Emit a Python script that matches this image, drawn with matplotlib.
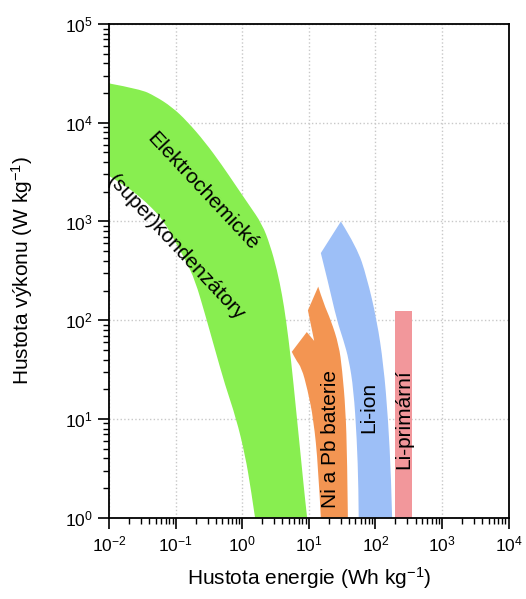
import matplotlib
matplotlib.use("Agg")
import numpy as np
import matplotlib.pyplot as plt
from matplotlib.path import Path
from matplotlib.patches import PathPatch
from matplotlib.ticker import LogLocator, NullFormatter

plt.rcParams['font.family'] = ['Liberation Sans', 'DejaVu Sans']
plt.rcParams['mathtext.fontset'] = 'custom'
plt.rcParams['mathtext.rm'] = 'Liberation Sans'
plt.rcParams['mathtext.it'] = 'Liberation Sans:italic'
plt.rcParams['mathtext.bf'] = 'Liberation Sans:bold'

# supercapacitor band: outer (upper) edge and inner (lower) edge
cap_outer_x = [0.01, 0.029, 0.0486, 0.0877, 0.147, 0.275, 0.494, 0.804, 1.26, 1.98, 2.61, 3.32,
               3.96, 4.54, 5.40, 6.42, 7.64, 8.77, 9.4]
cap_outer_y = [25000, 21900, 18660, 14420, 10400, 6370, 3720, 2290, 1470, 942, 577, 322,
               180, 100, 39.4, 12.3, 3.83, 1.51, 1.0]
cap_inner_x = [1.55, 1.35, 1.10, 0.804, 0.55, 0.375, 0.275, 0.194, 0.142, 0.0972, 0.0642,
               0.0439, 0.029, 0.0173, 0.01]
cap_inner_y = [1.0, 1.90, 4.30, 10.2, 22.0, 54.6, 115, 255, 397, 633, 1030,
               1370, 1770, 2310, 2880]

# Ni / Pb batteries: right edge (top -> bottom), left edge (bottom -> left tip), notch
nipb_right_x = [13.8, 16.6, 21.4, 28.2, 31.6, 35.5, 37.6, 38.5]
nipb_right_y = [219, 148, 100, 56, 31.6, 12.6, 4.0, 1.0]
nipb_left_x = [15.1, 13.8, 11.7, 9.5, 7.76, 6.3, 5.53]
nipb_left_y = [1.0, 3.3, 10, 20, 33, 40, 47.9]
nipb_notch_x = [9.29, 12.0, 9.66]
nipb_notch_y = [75.9, 61.7, 126]

# Li-ion: right edge (top -> bottom), left edge (bottom -> upper corner)
liion_right_x = [30.2, 52.5, 74, 105, 132, 155, 172, 178]
liion_right_y = [1000, 550, 275, 100, 35.5, 10, 2.5, 1.0]
liion_left_x = [56, 55.6, 52.5, 46.8, 39.8, 33, 26.3, 19.5, 15.1]
liion_left_y = [1.0, 2.0, 6.3, 20, 40, 63, 100, 240, 479]

# Li-primary
liprim_x = [195, 350]
liprim_top = 125


def edge(xs, ys, smooth=True):
    # quadratic bezier through the read points (midpoints taken in log space)
    n = len(xs)
    verts = [(xs[0], ys[0])]
    codes = []
    if not smooth or n < 3:
        for i in range(1, n):
            verts.append((xs[i], ys[i]))
            codes.append(Path.LINETO)
        return verts, codes
    for i in range(1, n - 1):
        if i < n - 2:
            end = (np.sqrt(xs[i] * xs[i + 1]), np.sqrt(ys[i] * ys[i + 1]))
        else:
            end = (xs[-1], ys[-1])
        verts += [(xs[i], ys[i]), end]
        codes += [Path.CURVE3, Path.CURVE3]
    return verts, codes


def shape(ax, edges, color):
    verts, codes = [], []
    for k, e in enumerate(edges):
        v, c = edge(*e)
        verts += v
        codes += [Path.MOVETO if k == 0 else Path.LINETO] + c
    verts.append(verts[0])
    codes.append(Path.CLOSEPOLY)
    ax.add_patch(PathPatch(Path(verts, codes), facecolor=color, lw=0, zorder=2))


fig = plt.figure(figsize=(5.26, 5.99), dpi=100)
ax = fig.add_axes([0.2078, 0.1357, 0.759, 0.8242])
ax.set_xscale('log')
ax.set_yscale('log')
ax.set_xlim(1e-2, 1e4)
ax.set_ylim(1e0, 1e5)

ax.grid(True, which='major', linestyle=':', color='#c8c8c8', linewidth=1.0, zorder=0)
ax.set_axisbelow(True)

shape(ax, [(cap_outer_x, cap_outer_y), (cap_inner_x, cap_inner_y)], '#88ee50')
shape(ax, [(nipb_right_x, nipb_right_y), (nipb_left_x, nipb_left_y),
           (nipb_notch_x, nipb_notch_y, False)], '#f39552')
shape(ax, [(liion_right_x, liion_right_y), (liion_left_x, liion_left_y)], '#9dbff7')
ax.fill([liprim_x[0], liprim_x[1], liprim_x[1], liprim_x[0]], [1, 1, liprim_top, liprim_top],
        color='#f2979b', lw=0, zorder=2)

tf = 15
ax.text(0.25, 2000, 'Elektrochemické', rotation=-47, ha='center', va='center',
        fontsize=tf, rotation_mode='anchor', zorder=3)
ax.text(0.10, 540, '(super)kondenzátory', rotation=-47, ha='center', va='center',
        fontsize=tf, rotation_mode='anchor', zorder=3)
ax.text(21, 6.2, 'Ni a Pb baterie', rotation=90, ha='center', va='center', fontsize=tf, zorder=3)
ax.text(78, 13, 'Li-ion', rotation=90, ha='center', va='center', fontsize=tf, zorder=3)
ax.text(268, 10, 'Li-primární', rotation=90, ha='center', va='center', fontsize=tf, zorder=3)

for s in ax.spines.values():
    s.set_linewidth(1.3)
ax.tick_params(which='major', direction='out', length=8, width=1.2, labelsize=12.5, pad=4,
               top=False, right=False)
ax.tick_params(which='minor', direction='out', length=4, width=1.0, top=False, right=False)
ax.xaxis.set_minor_locator(LogLocator(base=10, subs=range(2, 10), numticks=20))
ax.yaxis.set_minor_locator(LogLocator(base=10, subs=range(2, 10), numticks=20))
ax.xaxis.set_minor_formatter(NullFormatter())
ax.yaxis.set_minor_formatter(NullFormatter())

ax.set_xlabel('Hustota energie (Wh kg$^{-1}$)', fontsize=15)
ax.set_ylabel('Hustota výkonu (W kg$^{-1}$)', fontsize=15)
ax.xaxis.set_label_coords(0.5, -0.095)
ax.yaxis.set_label_coords(-0.185, 0.5)

fig.savefig('out.png', dpi=100)
